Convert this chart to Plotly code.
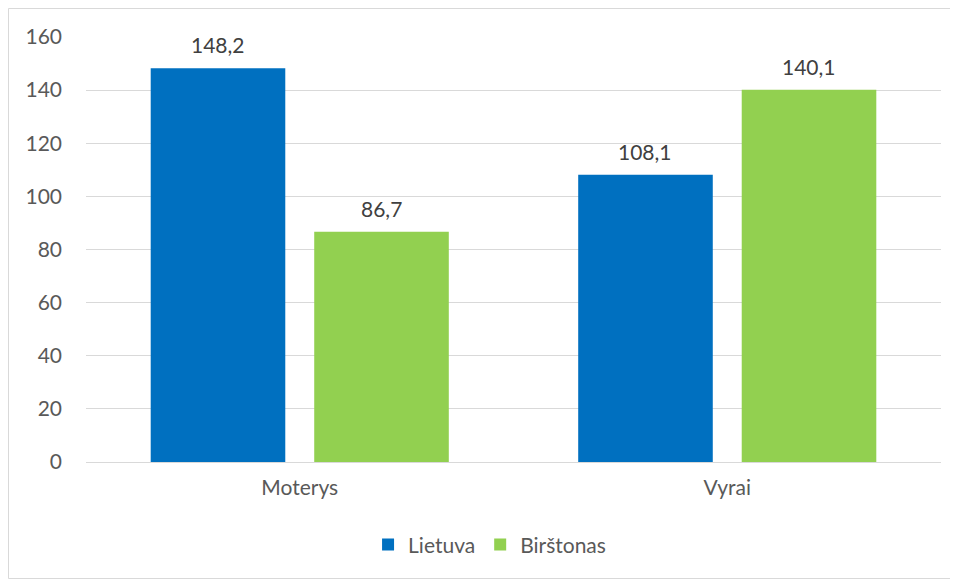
import plotly.graph_objects as go

# Data
categories = ["Moterys", "Vyrai"]
lietuva = [148.2, 108.1]
birstonas = [86.7, 140.1]
series_names = ["Lietuva", "Birštonas"]
colors = ["#0070C0", "#92D050"]

font_family = "Lato, Carlito, Open Sans, sans-serif"
text_color = "#595959"
label_color = "#404040"

# figure geometry (page has 8px body margin)
W, H = 943, 571
ML, MR, MT, MB = 78, 10, 29, 117
plot_w = W - ML - MR
plot_h = H - MT - MB
bargap, groupgap = 0.235, 0.177

# pixel offset of each bar centre from its category centre
cat_w = plot_w / len(categories)
slot_w = cat_w * (1 - bargap) / 2
bar_shift = slot_w / 2

fig = go.Figure()
for i, (name, vals, col) in enumerate(zip(series_names, [lietuva, birstonas], colors)):
    fig.add_trace(go.Bar(
        x=categories, y=vals, name=name,
        marker=dict(color=col, line=dict(width=0)),
    ))
    sign = -1 if i == 0 else 1
    for c, v in zip(categories, vals):
        fig.add_annotation(
            x=c, y=v, text=f"{v:.1f}".replace(".", ","),
            showarrow=False, yanchor="bottom", yshift=9, xshift=sign * bar_shift,
            font=dict(size=21, color=label_color, family=font_family),
        )

fig.update_layout(
    width=W, height=H,
    margin=dict(l=ML, r=MR, t=MT, b=MB),
    paper_bgcolor="white", plot_bgcolor="white",
    barmode="group", bargap=bargap, bargroupgap=groupgap,
    font=dict(family=font_family, size=21, color=text_color),
    showlegend=True,
    legend=dict(orientation="h", x=0.472, xanchor="center", y=-0.195, yanchor="middle",
                font=dict(size=21, color=text_color), itemwidth=30, tracegroupgap=0),
    xaxis=dict(showgrid=False, showline=False, ticks="", ticklabelstandoff=11,
               tickfont=dict(size=21, color=text_color)),
    yaxis=dict(range=[0, 160], dtick=20, gridcolor="#D9D9D9", gridwidth=1,
               zeroline=True, zerolinecolor="#D9D9D9", zerolinewidth=1,
               showline=False, ticks="", ticklabelstandoff=23,
               tickfont=dict(size=21, color=text_color)),
)

# chart border
fig.add_shape(type="rect", xref="paper", yref="paper",
              x0=-(ML - 0.5) / plot_w, x1=1 + (MR - 0.5) / plot_w,
              y0=-(MB - 0.5) / plot_h, y1=1 + (MT - 0.5) / plot_h,
              line=dict(color="#D9D9D9", width=1), fillcolor="rgba(0,0,0,0)", layer="below")

fig.write_html("out.html")
